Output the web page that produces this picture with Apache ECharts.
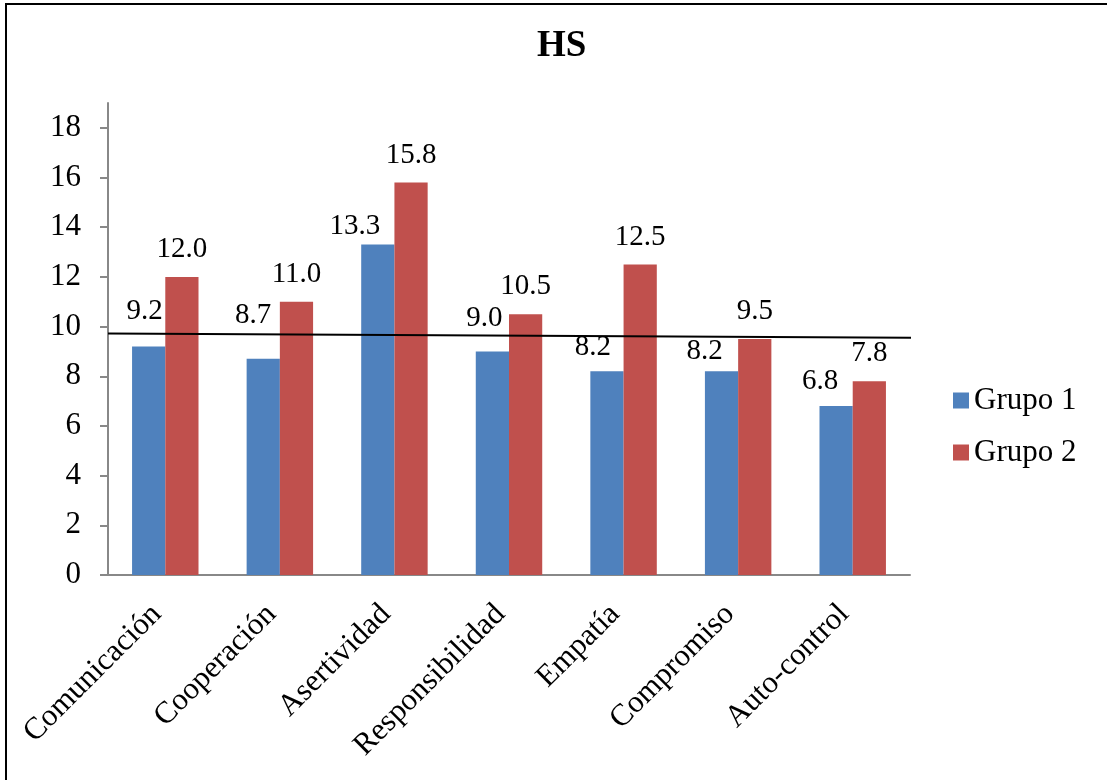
<!DOCTYPE html>
<html>
<head>
<meta charset="utf-8">
<title>HS</title>
<script src="https://cdn.jsdelivr.net/npm/echarts@6/dist/echarts.min.js"></script>
<style>
  html, body { margin: 0; padding: 0; background: #fff; }
  #chart { width: 1107px; height: 780px; }
</style>
</head>
<body>
<div id="chart"></div>
<script>
// Social skills (HS) scores by dimension for two groups
const categories = ['Comunicación', 'Cooperación', 'Asertividad', 'Responsibilidad', 'Empatía', 'Compromiso', 'Auto-control'];
const grupo1 = [9.2, 8.7, 13.3, 9.0, 8.2, 8.2, 6.8];
const grupo2 = [12.0, 11.0, 15.8, 10.5, 12.5, 9.5, 7.8];
const yTicks = [0, 2, 4, 6, 8, 10, 12, 14, 16, 18];
// Reference line across the plot: [category position, value]
const referenceLine = [[0, 9.72], [7.17, 9.55]];

// Hand-placed label nudges for the Grupo 1 values [dx, dy]
const grupo1LabelNudge = [[-4, -8], [-10, -16], [-23, 9], [-8, -6], [-14, 4], [-17, 8], [-16, 3]];

const FONT = '"Liberation Serif", "Times New Roman", serif';
const BLUE = '#4F81BD';
const RED = '#C0504D';

const chart = echarts.init(document.getElementById('chart'), null, { renderer: 'canvas' });

const fmt = p => Number(p.value).toFixed(1);

chart.setOption({
  backgroundColor: '#ffffff',
  animation: false,
  title: {
    text: 'HS',
    left: 537,
    top: 28,
    padding: 0,
    textStyle: { fontFamily: FONT, fontSize: 37, fontWeight: 'bold', color: '#000' }
  },
  legend: {
    data: ['Grupo 1', 'Grupo 2'],
    orient: 'vertical',
    left: 953,
    top: 385,
    padding: 0,
    itemWidth: 16,
    itemHeight: 16,
    itemGap: 21,
    icon: 'rect',
    textStyle: { fontFamily: FONT, fontSize: 31, color: '#000' }
  },
  grid: { left: 108, right: 197, top: 103, bottom: 205, containLabel: false },
  xAxis: [
    {
      type: 'category',
      data: categories,
      axisLine: { lineStyle: { color: '#888888', width: 2 } },
      axisTick: { show: false },
      axisLabel: {
        rotate: 45,
        interval: 0,
        margin: 26,
        color: '#000',
        fontFamily: FONT,
        fontSize: 31,
        padding: [0, 12, 0, 0]
      }
    },
    {
      type: 'value',
      min: 0,
      max: 7,
      show: false
    }
  ],
  yAxis: {
    type: 'value',
    min: 0,
    max: 19,
    interval: 2,
    splitLine: { show: false },
    axisLine: { show: true, lineStyle: { color: '#888888', width: 2 } },
    axisTick: { show: true, length: 8, customValues: yTicks, lineStyle: { color: '#888888', width: 2 } },
    axisLabel: {
      customValues: yTicks,
      margin: 27,
      color: '#000',
      fontFamily: FONT,
      fontSize: 31
    }
  },
  series: [
    {
      name: 'Grupo 1',
      type: 'bar',
      xAxisIndex: 0,
      barGap: '0%',
      barCategoryGap: '42%',
      itemStyle: { color: BLUE },
      label: {
        show: true,
        position: 'top',
        distance: 13,
        formatter: fmt,
        color: '#000',
        fontFamily: FONT,
        fontSize: 29
      },
      data: grupo1.map((v, i) => ({ value: v, label: { offset: grupo1LabelNudge[i] } }))
    },
    {
      name: 'Grupo 2',
      type: 'bar',
      xAxisIndex: 0,
      barGap: '0%',
      barCategoryGap: '42%',
      itemStyle: { color: RED },
      label: {
        show: true,
        position: 'top',
        distance: 13,
        formatter: fmt,
        color: '#000',
        fontFamily: FONT,
        fontSize: 29
      },
      data: grupo2
    },
    {
      name: 'referencia',
      type: 'line',
      xAxisIndex: 1,
      yAxisIndex: 0,
      clip: false,
      silent: true,
      symbol: 'none',
      z: 5,
      lineStyle: { color: '#000', width: 2 },
      data: referenceLine
    }
  ],
  graphic: [
    {
      type: 'rect',
      silent: true,
      shape: { x: 6, y: 4, width: 1200, height: 900 },
      style: { fill: 'none', stroke: '#000', lineWidth: 2 }
    }
  ]
});
</script>
</body>
</html>
